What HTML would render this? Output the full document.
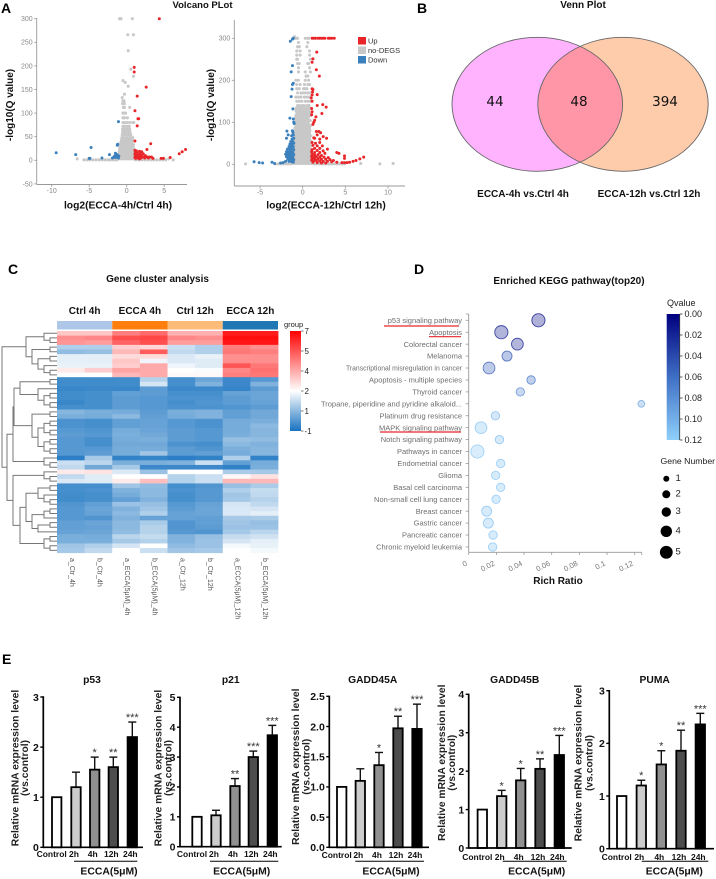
<!DOCTYPE html>
<html lang="en">
<head>
<meta charset="utf-8">
<title>ECCA transcriptome figure</title>
<style>
html,body{margin:0;padding:0;background:#fff;width:716px;height:879px;overflow:hidden}
svg{display:block;font-family:"Liberation Sans",sans-serif;filter:blur(.3px)}
.b{font-weight:bold;fill:#111}
.panel{font-weight:bold;font-size:14px;fill:#000}
.ttl{font-weight:bold;font-size:10px;fill:#111;text-anchor:middle}
</style>
</head>
<body>
<svg id="fig" xmlns="http://www.w3.org/2000/svg" width="716" height="879" viewBox="0 0 716 879">
  <defs>
    <linearGradient id="heatGrad" x1="0" y1="0" x2="0" y2="1">
      <stop offset="0" stop-color="#ff0000"/><stop offset=".6" stop-color="#ffffff"/><stop offset="1" stop-color="#1772c0"/>
    </linearGradient>
    <linearGradient id="qGrad" x1="0" y1="0" x2="0" y2="1">
      <stop offset="0" stop-color="#00007f"/><stop offset=".5" stop-color="#3f6fc4"/><stop offset="1" stop-color="#8fd0fb"/>
    </linearGradient>
    <clipPath id="vennClip"><ellipse cx="537.3" cy="104.3" rx="85.3" ry="67"/></clipPath>
  </defs>
  <rect width="716" height="879" fill="#fff"/>

  <text class="panel" x="1" y="13">A</text>
  <text class="panel" x="417" y="13">B</text>
  <text class="panel" x="8" y="274">C</text>
  <text class="panel" x="414" y="274">D</text>
  <text class="panel" x="2" y="664">E</text>

  <g id="volcano">
    <text class="ttl" x="202.5" y="8" style="font-size:9.5px">Volcano PLot</text>
    <text class="b" transform="translate(13,105) rotate(-90)" text-anchor="middle" font-size="10">-log10(Q value)</text>
    <text class="b" x="118" y="208.3" text-anchor="middle" font-size="10.3">log2(ECCA-4h/Ctrl 4h)</text>
    <text class="b" transform="translate(214,105) rotate(-90)" text-anchor="middle" font-size="10">-log10(Q value)</text>
    <text class="b" x="326" y="208.3" text-anchor="middle" font-size="10.3">log2(ECCA-12h/Ctrl 12h)</text>
    <g>
      <rect x="358" y="37" width="8" height="7.5" fill="#e8262a"/>
      <text x="368" y="43.5" font-size="7.5" fill="#333">Up</text>
      <rect x="358" y="46.5" width="8" height="7.5" fill="#c8c8c8"/>
      <text x="368" y="53" font-size="7.5" fill="#333">no-DEGS</text>
      <rect x="358" y="56" width="8" height="7.5" fill="#3a80bd"/>
      <text x="368" y="62.5" font-size="7.5" fill="#333">Down</text>
    </g>
  </g>

  <g id="venn">
    <text class="ttl" x="583" y="8">Venn Plot</text>
    <ellipse cx="537.3" cy="104.3" rx="85.3" ry="67" fill="#ffb3ff"/>
    <ellipse cx="623" cy="104.3" rx="85.2" ry="67" fill="#fecbab"/>
    <ellipse cx="623" cy="104.3" rx="85.2" ry="67" fill="#ff96a8" clip-path="url(#vennClip)"/>
    <ellipse cx="537.3" cy="104.3" rx="85.3" ry="67" fill="none" stroke="#666" stroke-width=".9"/>
    <ellipse cx="623" cy="104.3" rx="85.2" ry="67" fill="none" stroke="#666" stroke-width=".9"/>
    <g font-family="'DejaVu Sans',sans-serif" font-size="13.5" fill="#111" text-anchor="middle">
      <text x="495" y="106">44</text>
      <text x="579" y="106">48</text>
      <text x="665" y="106">394</text>
    </g>
    <text class="ttl" x="523" y="197">ECCA-4h vs.Ctrl 4h</text>
    <text class="ttl" x="649" y="197">ECCA-12h vs.Ctrl 12h</text>
  </g>

  <g id="heatmap">
    <text class="ttl" x="157.5" y="282">Gene cluster analysis</text>
    <rect x="290" y="331" width="11" height="100" fill="url(#heatGrad)"/>
    <text x="284" y="327" font-size="7.5" fill="#222">group</text>
  </g>

  <g id="kegg">
    <text class="ttl" x="569" y="284">Enriched KEGG pathway(top20)</text>
    <text class="b" x="558" y="584" text-anchor="middle" font-size="10">Rich Ratio</text>
    <text x="667" y="306" font-size="9" fill="#222">Qvalue</text>
    <rect x="666.7" y="314" width="13" height="126" fill="url(#qGrad)"/>
    <text x="660.5" y="464" font-size="8.7" fill="#222">Gene Number</text>
  </g>

  <g id="bars"></g>
</svg>

<script>
/* ---------- volcano data ---------- */
// rows: first value is -log10(Q), the remaining values are log2 fold changes
const volcano4hGrayRows = [
  [1,-5.7,-5.3,-4.9,-4.5,-4.1,-3.7,-3.3,-2.9,-2.5,-2.2,-1.9,-1.6,-1.3,1.2,1.6,2,2.4,2.8,3.2,3.6,4,4.4,4.8,5.2,6.2],
  [3,-6.6,5.6,-1.2,-.9,-.6,-.3,0,.3,.6,.9,1.1],
  [8,-1.1,-.85,-.6,-.35,-.1,.15,.4,.65,.9],
  [13,-1.05,-.8,-.55,-.3,-.05,.2,.45,.7,.95],
  [18,-1,-.75,-.5,-.25,0,.25,.5,.75,1],
  [23,-.95,-.7,-.45,-.2,.05,.3,.55,.8,1],
  [28,-.9,-.65,-.4,-.15,.1,.35,.6,.85],
  [33,-.85,-.6,-.35,-.1,.15,.4,.65,.9],
  [38,-.8,-.55,-.3,-.05,.2,.45,.7],
  [43,-.7,-.45,-.2,.05,.3,.55,.75],
  [48,-.65,-.4,-.15,.1,.35,.6,.8],
  [54,-.6,-.35,-.1,.15,.4,.55],
  [60,-.55,-.3,-.05,.2,.45],
  [66,-.55,-.3,-.05,.2,.4],
  [72,-.5,-.25,0,.25,.35],
  [80,-.5,-.25,.05,.4,.8,.95],
  [90,-.5,-.3,.1],
  [100,-.5,-.35,-.15],
  [112,-.45,-.3,.4],
  [120,-.55,-.4,-.3],
  [126,-.5,-.35],
  [133,-.6],[140,-.3],[157,.2],[165,-.2],[169,-.5],[178,.9],[193,.55],[232,.2],
  [266,.15,.9],
  [300,-.95,-.75,.75]
];
const volcano4hRedPoints = [
  [4.35,300],[1,197],[1,187],[2.6,155],[1.4,136],[1.1,105],[1.6,88],[1.5,88],[1.4,73],[1.1,41],[3.2,35],[2.7,23],
  [7.85,23],[7.4,18],[7,14],[5.8,6],[4.9,4],[4.6,4],
  [1.1,21],[1.3,20],[1.7,19],[2,18],[1.15,17],[1.4,15],[1.8,14],[2.2,14],[1.1,13],[1.3,11],[1.6,11],[2,10],
  [2.5,10],[1.15,9],[1.4,8],[1.8,8],[2.2,7],[2.7,7],[3,7],[3.3,7],[1.1,6],[1.5,5],[1.9,5],[2.4,5],[2.9,5],[3.5,4],[1.2,4],[1.7,3]
];
const volcano4hBluePoints = [
  [-1.1,82],[-1.2,34],[-1.25,32],[-4.75,27],[-9.4,16],[-6.8,12],[-5,4],[-4.9,4],[-2.3,12],[-3.3,5],
  [-1.5,15],[-1.4,11],[-1.7,7],[-1.2,7],[-1.5,6],[-1.1,5],[-1.3,12],[-1.6,9],[-1.9,5],[-1.05,9]
];
const volcano12hGrayRows = [
  [1,-6.7,9.05,-3.2,-2.9,-2.6,-2.3,-2,-1.7,-1.4,1.3,1.6,1.9,2.2,2.5,2.8,3.1,3.4,3.7,4,4.3,4.6,4.9],
  [2,6.8,10.6,-1.1,-.8,-.5,-.2,.1,.4,.7,1],
  [8,-1,-.75,-.5,-.25,0,.25,.5,.75,1],
  [14,-.95,-.7,-.45,-.2,.05,.3,.55,.8],
  [20,-1,-.75,-.5,-.25,0,.25,.5,.75,1],
  [26,-.95,-.7,-.45,-.2,.05,.3,.55,.8],
  [32,-1,-.75,-.5,-.25,0,.25,.5,.75,.95],
  [38,-.95,-.7,-.45,-.2,.05,.3,.55,.8],
  [44,-.95,-.75,-.5,-.25,0,.25,.5,.75,.95],
  [50,-.9,-.7,-.45,-.2,.05,.3,.55,.8],
  [56,-.95,-.75,-.5,-.25,0,.25,.5,.75,.95],
  [62,-.9,-.7,-.45,-.2,.05,.3,.55,.8],
  [68,-.95,-.75,-.5,-.25,0,.25,.5,.75,.95],
  [74,-.9,-.7,-.45,-.2,.05,.3,.55,.8],
  [80,-.85,-.65,-.4,-.15,.1,.35,.6,.85],
  [86,-.9,-.7,-.45,-.2,.05,.3,.55,.8],
  [92,-.8,-.55,-.3,-.05,.2,.45,.7,.9],
  [98,-.85,-.6,-.35,-.1,.15,.4,.65],
  [104,-.8,-.55,-.3,-.05,.2,.45,.7,.9],
  [110,-.85,-.6,-.35,-.1,.15,.4,.65],
  [116,-.8,-.55,-.3,-.05,.2,.45,.7,.9],
  [122,-.7,-.45,-.2,.05,.3,.55,.8],
  [128,-.8,-.55,-.3,-.05,.2,.45,.7],
  [134,-.75,-.45,-.2,.1,.4,.7,.85],
  [140,-.6,-.4,-.1,.15,.5,.75],
  [150,-.7,-.4,-.1,.3,.6,.9],
  [160,-.8,-.5,-.2,.2,.5,.8],
  [170,-.6,-.2,0,.3,.6,.8],
  [180,-.7,-.4,.1,.3,.5],
  [190,-.7,-.3,.2,.6,.8],
  [200,-.8,-.5,.3,.7],
  [210,.4,.6],
  [220,-.5,.3,.9],
  [230,-.5,.8],
  [240,-.6,-.4,.6,.7],
  [250,-.7,-.6,.9],
  [260,-.3,.8,-.7],
  [270,-.7,.8,-.3],
  [280,-.6,-.4,.5],
  [290,.6,-.5],
  [300,-1,-.8,-.6,.3,.6,.7],
  [304,-.95]
];
const volcano12hRedPoints = [
  [1.1,300],[1.3,300],[1.5,300],[1.8,300],[2,300],[2.2,300],[2.4,300],[2.6,300],[3,300],[3.2,300],[3.4,300],[3.7,300],
  [1.65,267],[1.2,251],[1.1,243],[1.6,225],[1.95,210],[1.1,180],[1.2,178],[1.15,172],[1.1,165],[1.7,166],[1,158],[1.1,150],
  [1.7,140],[2.35,142],[2.75,136],[1.05,133],[1.1,125],[1.05,118],[2.25,121],[1.55,113],[1.4,105],[1.3,100],[1.2,95],
  [1.6,78],[1.9,78],[2.1,75],[1.7,70],[1.3,63],[1.4,62],[2,60],[2.8,62],[2.4,66],[1.1,52],[1.5,50],[2,52],[1.2,45],[1.7,44],
  [2.3,44],[1.4,38],[2,38],[2.9,36],[1.1,35],[1.7,33],[2.4,32],[1.05,30],[1.4,28],[2,28],[2.6,26],
  [4,28],[4.25,26],[4.9,20],[4.9,14],[7.15,17],[6.7,13],[6.25,9],[5.9,7],[5.5,5],[5.2,4],[4.9,4],[4.6,4],
  [1.1,24],[1.4,22],[1.8,23],[2.2,21],[1.05,19],[1.3,17],[1.6,18],[2,17],[2.5,17],[3,16],
  [1.1,14],[1.4,13],[1.8,13],[2.2,12],[2.7,12],[3.2,11],[3.6,9],[1.05,10],[1.3,8],[1.6,9],[2,8],[2.4,7],[2.9,7],[3.4,6],[4,5],[1.2,5],[1.7,4],[2.2,3],[2.7,3]
];
const volcano12hBluePoints = [
  [-1.45,293],[-1.2,298],[-1.1,300],[-1.2,235],[-1.35,220],[-1.1,193],[-1.2,190],[-1.25,179],[-1.35,161],[-1.15,132],
  [-1.5,110],[-1.1,108],[-1.05,100],[-1,97],[-1.85,79],[-1.2,80],[-1.15,76],[-1.7,70],[-1.9,62],[-1.3,68],[-1.1,70],
  [-1.25,60],[-1.05,62],[-1.4,54],[-1.15,54],[-1.5,48],[-1.25,48],[-1.05,50],[-1.6,42],[-1.35,42],[-1.1,42],
  [-1.8,36],[-1.5,36],[-1.25,36],[-1.05,35],[-1.9,30],[-1.65,30],[-1.4,30],[-1.15,29],[-2,24],[-1.75,24],[-1.5,24],[-1.25,24],[-1.05,23],
  [-1.9,18],[-1.65,18],[-1.4,18],[-1.15,17],[-1.75,12],[-1.5,12],[-1.25,12],[-1.05,11],[-1.6,7],[-1.3,6],[-1.1,5],[-2,7],[-2.3,4],[-2.6,3],
  [-5.7,6],[-5.1,4],[-4.7,3],[-3.6,5],[-3.3,2]
];
const volcano4hXTicks = [-10,-5,0,5];
const volcano4hYTicks = [-50,0,50,100,150,200,250,300];
const volcano12hXTicks = [-5,0,5,10];
const volcano12hYTicks = [0,100,200,300];

/* ---------- heatmap data ---------- */
const heatColumns = ['a_Ctr_4h','b_Ctr_4h','a_ECCA(5μM)_4h','b_ECCA(5μM)_4h','a_Ctr_12h','b_Ctr_12h','a_ECCA(5μM)_12h','b_ECCA(5μM)_12h'];
const heatGroups = ['Ctrl 4h','ECCA 4h','Ctrl 12h','ECCA 12h'];
const heatGroupColors = ['#aec7e8','#ff7f0e','#ffbb78','#1f77b4'];
const heatScaleLabels = ['7','5','4','2','1','-1'];
const heatValues = [
  [4.2,4.2,5.2,5.5,4.5,4.5,6.6,6.6],
  [5.0,5.1,5.9,6.0,5.1,5.0,6.8,6.8],
  [4.9,4.8,5.6,5.9,4.8,4.8,6.7,6.7],
  [1.9,1.9,4.1,4.0,2.4,1.9,5.2,5.0],
  [1.3,1.4,4.4,5.7,2.2,1.9,5.3,5.2],
  [2.9,2.9,3.9,3.9,2.7,3.0,5.0,5.0],
  [2.9,2.9,4.2,3.1,2.7,2.8,5.0,5.0],
  [3.0,3.0,4.1,4.6,3.1,2.8,5.8,5.3],
  [3.7,4.1,4.7,4.6,3.4,3.3,5.1,5.4],
  [3.3,3.4,4.4,4.6,3.5,3.5,5.2,5.3],
  [-.2,-.2,-.2,2.0,-.1,.6,-.3,.2],
  [-.2,-.2,-.2,2.6,-.1,1.0,-.3,1.0],
  [-.35,-.3,-.35,.3,-.3,-.3,-.4,.3],
  [-.2,-.1,.4,.3,-.1,-.1,.5,.6],
  [-.2,-.1,.3,.2,0,0,.3,.6],
  [-.35,-.1,.3,.2,-.1,.1,.3,.5],
  [-.1,-.1,.3,.2,0,0,.1,.3],
  [1.1,.9,.8,.3,.9,1.0,.4,.7],
  [.9,.8,1.2,.4,.8,1.0,.4,.7],
  [0,-.1,.4,.5,.2,0,.8,.9],
  [0,-.1,.4,.5,.2,0,.8,1.2],
  [.2,.1,.8,.6,.3,.2,.8,1.1],
  [.3,.2,.9,.7,.3,.2,.9,1.1],
  [.2,-.1,.8,.9,.3,.2,1.4,1.3],
  [.2,-.1,.7,.7,0,-.1,1.2,1.0],
  [.2,.2,.8,.8,.3,.1,.9,1.1],
  [.2,.3,.8,1.6,.3,.4,.8,1.1],
  [-.6,1.7,-.5,-.4,-.6,-.5,1.9,-.5],
  [2.4,2.1,.9,.9,1.0,2.4,.4,.8],
  [2.2,.7,1.7,-.3,-.3,-.3,-.5,.9],
  [3.7,3.8,2.7,1.5,3.4,3.4,1.8,1.7],
  [2.2,2.8,3.4,3.4,2.0,2.4,3.5,3.8],
  [2.7,2.8,3.7,4.3,2.0,2.4,4.4,4.4],
  [-.1,-.1,1.6,1.3,-.1,.1,1.4,1.8],
  [-.1,0,1.0,1.2,0,.2,1.9,2.3],
  [-.2,-.1,.8,1.2,-.1,.2,1.6,2.2],
  [-.2,-.1,.4,1.0,-.1,.2,1.7,2.0],
  [.1,.4,1.5,1.4,.2,.5,2.6,2.2],
  [.2,.6,1.0,1.6,.3,.6,2.7,2.6],
  [.2,.5,1.2,1.9,.5,.6,2.7,2.9],
  [.2,.1,1.0,.5,.5,.4,1.7,1.8],
  [.4,.6,1.2,1.8,.1,.4,1.6,1.4],
  [.4,.5,1.2,2.0,.1,.3,1.5,1.5],
  [.5,.6,1.3,2.0,.2,.1,1.7,2.1],
  [.9,.8,2.1,2.3,1.0,1.4,2.3,2.5],
  [.9,.9,1.7,2.0,1.0,1.5,2.6,2.9],
  [1.6,1.9,2.6,3.4,1.3,1.5,3.2,3.0],
  [1.7,2.2,3.4,2.4,1.6,1.7,3.4,3.2]
];
// merge tree: [merge height, left, right]; plain numbers are heatmap rows
const heatTree = [2,
  [26,[44,0,[50,1,2]],[32,[50,3,4],[38,[50,5,6],[44,7,[50,8,9]]]]],
  [7,
    [13,
      [14,
        [20,[50,10,11],[38,12,[44,[50,13,14],[50,15,16]]]],
        [32,[50,17,18],[38,[44,[50,19,20],[50,21,22]],[44,[50,23,24],[50,25,26]]]]],
      [44,27,[50,28,29]]],
    [13,
      [44,30,[50,31,32]],
      [20,
        [26,[38,[50,33,34],[44,35,[50,36,37]]],[32,[44,[50,38,39],40],[38,[50,41,42],43]]],
        [44,[50,44,45],[50,46,47]]]]]
];

/* ---------- KEGG data ---------- */
const keggPathways = ['p53 signaling pathway','Apoptosis','Colorectal cancer','Melanoma','Transcriptional misregulation in cancer','Apoptosis - multiple species','Thyroid cancer','Tropane, piperidine and pyridine alkaloid...','Platinum drug resistance','MAPK signaling pathway','Notch signaling pathway','Pathways in cancer','Endometrial cancer','Glioma','Basal cell carcinoma','Non-small cell lung cancer','Breast cancer','Gastric cancer','Pancreatic cancer','Chronic myeloid leukemia'];
const keggRichRatio = [.0504,.0236,.0352,.0277,.0147,.0451,.0373,.1248,.0193,.0089,.0222,.0063,.0231,.0195,.0231,.0198,.013,.0142,.0176,.0173];
const keggGeneNumber = [5,5,4,3,4,2,2,1,2,4,2,5,2,2,2,2,3,3,2,2];
const keggQvalue = [.005,.012,.015,.045,.05,.06,.075,.09,.105,.112,.108,.115,.112,.112,.112,.112,.11,.11,.112,.112];
const keggXTicks = [0,.02,.04,.06,.08,.1,.12];
const keggUnderlined = ['p53 signaling pathway','Apoptosis','MAPK signaling pathway'];
const qvalueTicks = [0,.02,.04,.06,.08,.1,.12];
const geneLegend = [1,2,3,4,5];

/* ---------- qPCR bar data ---------- */
const barCategories = ['Control','2h','4h','12h','24h'];
const p53Means = [1,1.2,1.55,1.6,2.2];
const p53Tops = [1,1.5,1.8,1.8,2.5];
const p53Stars = ['','','*','**','***'];
const p53Ticks = ['0','1','2','3'];
const p21Means = [1,1.05,2.03,3,3.73];
const p21Tops = [1,1.22,2.28,3.2,4.06];
const p21Stars = ['','','**','***','***'];
const p21Ticks = ['0','1','2','3','4','5'];
const gadd45aMeans = [1,1.1,1.36,1.97,1.96];
const gadd45aTops = [1,1.3,1.57,2.17,2.37];
const gadd45aStars = ['','','*','**','***'];
const gadd45aTicks = ['0.0','0.5','1.0','1.5','2.0','2.5'];
const gadd45bMeans = [1,1.35,1.76,2.06,2.42];
const gadd45bTops = [1,1.5,2.07,2.32,2.93];
const gadd45bStars = ['','*','*','**','***'];
const gadd45bTicks = ['0','1','2','3','4'];
const pumaMeans = [1,1.2,1.6,1.86,2.36];
const pumaTops = [1,1.3,1.86,2.25,2.57];
const pumaStars = ['','*','*','**','***'];
const pumaTicks = ['0','1','2','3'];

/* ---------- helpers ---------- */
const NS = 'http://www.w3.org/2000/svg';
function add(parent, tag, attrs, name, text) {
  const el = document.createElementNS(NS, tag);
  for (const k in attrs) el.setAttribute(k, attrs[k]);
  
  
  if (text !== undefined) el.textContent = text;
  parent.appendChild(el);
  return el;
}
function linear(d0, d1, r0, r1) { return v => r0 + (v - d0) * (r1 - r0) / (d1 - d0); }

/* ---------- volcano ---------- */
function drawVolcano(root, key, o) {
  const g = add(root, 'g', {}, key + '-plot');
  const x = linear(0, 1, o.x0, o.x0 + o.xUnit);
  const y = linear(0, 1, o.y0, o.y0 - o.yUnit);
  add(g, 'line', {x1:o.left,x2:o.left,y1:o.top,y2:o.bottom,stroke:'#999','stroke-width':.9}, key + '-y-axis');
  add(g, 'line', {x1:o.left,x2:o.right,y1:o.bottom,y2:o.bottom,stroke:'#999','stroke-width':.9}, key + '-x-axis');
  o.yTicks.forEach(t => {
    add(g, 'line', {x1:o.left-2.5,x2:o.left,y1:y(t),y2:y(t),stroke:'#999','stroke-width':.8}, key + '-y-tick');
    add(g, 'text', {x:o.left-4,y:y(t)+2.4,'text-anchor':'end','font-size':7,fill:'#888'}, key + '-y-tick-label', String(t));
  });
  o.xTicks.forEach(t => {
    add(g, 'line', {x1:x(t),x2:x(t),y1:o.bottom,y2:o.bottom+2.5,stroke:'#999','stroke-width':.8}, key + '-x-tick');
    add(g, 'text', {x:x(t),y:o.bottom+8.5,'text-anchor':'middle','font-size':7,fill:'#888'}, key + '-x-tick-label', String(t));
  });
  o.gray.forEach(row => {
    row.slice(1).forEach(v => {
      add(g, 'circle', {cx:x(v),cy:y(row[0]),r:1.55,fill:'#c8c8c8'}, key + '-point-no-degs');
    });
  });
  o.blue.forEach(p => {
    add(g, 'circle', {cx:x(p[0]),cy:y(p[1]),r:1.5,fill:'#3a80bd'}, key + '-point-down');
  });
  o.red.forEach(p => {
    add(g, 'circle', {cx:x(p[0]),cy:y(p[1]),r:1.5,fill:'#e8262a'}, key + '-point-up');
  });
}
const volcanoRoot = document.getElementById('volcano');
drawVolcano(volcanoRoot, 'volcano-4h', {
  x0:126.7,xUnit:7.5,y0:160.3,yUnit:.472,left:36.7,right:187,top:18,bottom:184.5,
  xTicks:volcano4hXTicks,yTicks:volcano4hYTicks,gray:volcano4hGrayRows,red:volcano4hRedPoints,blue:volcano4hBluePoints
});
drawVolcano(volcanoRoot, 'volcano-12h', {
  x0:302.7,xUnit:8.53,y0:164.3,yUnit:.42,left:234.3,right:405,top:20,bottom:186,
  xTicks:volcano12hXTicks,yTicks:volcano12hYTicks,gray:volcano12hGrayRows,red:volcano12hRedPoints,blue:volcano12hBluePoints
});

/* ---------- heatmap ---------- */
const heatRoot = document.getElementById('heatmap');
const heatLeft = 57, heatTop = 331, cellW = 221 / heatColumns.length, rowH = 221.7 / heatValues.length;
function heatColor(v) {
  const mid = 3.4;
  let t, c0, c1;
  if (v < mid) { t = Math.max(0, (v + 1) / (mid + 1)); c0 = [23,114,192]; c1 = [255,255,255]; }
  else { t = Math.min(1, (v - mid) / (7 - mid)); c0 = [255,255,255]; c1 = [255,0,0]; }
  const c = c0.map((a, i) => Math.round(a + (c1[i] - a) * t));
  return 'rgb(' + c.join(',') + ')';
}
const heatCells = add(heatRoot, 'g', {}, 'heatmap-cells');
heatValues.forEach((row, r) => {
  row.forEach((v, c) => {
    add(heatCells, 'rect', {x:heatLeft+c*cellW,y:heatTop+r*rowH,width:cellW+.4,height:rowH+.4,fill:heatColor(v)}, 'heatmap-cell');
  });
});
heatGroups.forEach((label, i) => {
  add(heatRoot, 'rect', {x:heatLeft+i*2*cellW,y:321,width:2*cellW,height:8.5,fill:heatGroupColors[i]}, 'group-bar-segment');
  add(heatRoot, 'text', {x:heatLeft+(i*2+1)*cellW,y:314,'text-anchor':'middle','font-size':10,'font-weight':'bold',fill:'#111'}, 'group-label', label);
});
heatColumns.forEach((label, i) => {
  const cx = heatLeft + (i + .5) * cellW;
  add(heatRoot, 'text', {transform:'translate('+(cx-1)+',558) rotate(90)','font-size':7,fill:'#555'}, 'heatmap-column-label', label);
});
heatScaleLabels.forEach((label, i) => {
  const ty = 331 + i * 20;
  add(heatRoot, 'line', {x1:301,x2:303.5,y1:ty,y2:ty,stroke:'#444','stroke-width':.7}, 'colorbar-tick');
  add(heatRoot, 'text', {x:304.5,y:ty+3,'font-size':8,fill:'#222'}, 'colorbar-tick-label', label);
});
const dendro = add(heatRoot, 'g', {stroke:'#777','stroke-width':1,fill:'none'}, 'heatmap-dendrogram');
function drawTree(node) {
  if (typeof node === 'number') return {x:heatLeft, y:heatTop + (node + .5) * rowH};
  const a = drawTree(node[1]), b = drawTree(node[2]);
  const d = 'M'+a.x+' '+a.y+'H'+node[0]+'V'+b.y+'H'+b.x;
  add(dendro, 'path', {d:d}, 'dendrogram-branch');
  return {x:node[0], y:(a.y + b.y) / 2};
}
drawTree(heatTree);

/* ---------- KEGG bubble plot ---------- */
const keggRoot = document.getElementById('kegg');
const keggX = linear(0, .12, 468.7, 634.7);
const keggY = i => 320.3 + i * 11.93;
const bubbleRadius = [0,3.4,4.2,5,5.9,6.6];
const legendRadius = [0,3,4,4.7,5.7,6.4];
const legendY = [478.7,494.3,512,531.3,552.3];
function qColor(q) {
  const t = q / .12;
  const s = [[0,0,127],[63,111,196],[143,208,251]];
  const seg = t < .5 ? 0 : 1, u = t < .5 ? t * 2 : (t - .5) * 2;
  return 'rgb(' + s[seg].map((a, i) => Math.round(a + (s[seg+1][i] - a) * u)).join(',') + ')';
}
add(keggRoot, 'line', {x1:468.7,x2:468.7,y1:314,y2:552.3,stroke:'#999','stroke-width':.9}, 'kegg-y-axis');
add(keggRoot, 'line', {x1:466,x2:468.7,y1:314,y2:314,stroke:'#999','stroke-width':.8}, 'kegg-y-axis-cap');
add(keggRoot, 'line', {x1:468.7,x2:641.7,y1:552.3,y2:552.3,stroke:'#999','stroke-width':.9}, 'kegg-x-axis');
add(keggRoot, 'line', {x1:641.7,x2:641.7,y1:552.3,y2:555,stroke:'#999','stroke-width':.8}, 'kegg-x-axis-cap');
keggXTicks.forEach(t => {
  add(keggRoot, 'line', {x1:keggX(t),x2:keggX(t),y1:552.3,y2:555,stroke:'#999','stroke-width':.8}, 'kegg-x-tick');
  add(keggRoot, 'text', {transform:'translate('+(keggX(t)-1)+',565) rotate(-27)','text-anchor':'end','font-size':7.5,fill:'#777'}, 'kegg-x-tick-label', String(t));
});
keggPathways.forEach((name, i) => {
  const yy = keggY(i);
  add(keggRoot, 'line', {x1:465.7,x2:468.7,y1:yy,y2:yy,stroke:'#999','stroke-width':.8}, 'kegg-y-tick');
  const lab = add(keggRoot, 'text', {x:462,y:yy+2.6,'text-anchor':'end','font-size':7.5,fill:'#6e6e6e'}, 'kegg-pathway-label', name);
  if (name.length === 39) { lab.setAttribute('textLength', 116); lab.setAttribute('lengthAdjust', 'spacingAndGlyphs'); }
  const col = qColor(keggQvalue[i]);
  add(keggRoot, 'circle', {cx:keggX(keggRichRatio[i]),cy:yy,r:bubbleRadius[keggGeneNumber[i]],fill:col,'fill-opacity':.32,stroke:col,'stroke-width':.9,'stroke-opacity':.75}, 'kegg-bubble');
});
const underlineSpans = {'p53 signaling pathway':[384,459,326],'Apoptosis':[429,461,336.7],'MAPK signaling pathway':[380,461,432]};
keggUnderlined.forEach(n => {
  const s = underlineSpans[n];
  add(keggRoot, 'line', {x1:s[0],x2:s[1],y1:s[2],y2:s[2],stroke:'#e8262a','stroke-width':1.2}, 'pathway-highlight-underline');
});
const qAxis = linear(0, .12, 314, 440);
qvalueTicks.forEach(t => {
  add(keggRoot, 'line', {x1:679.7,x2:682.5,y1:qAxis(t),y2:qAxis(t),stroke:'#333','stroke-width':.8}, 'qvalue-tick');
  add(keggRoot, 'text', {x:684.5,y:qAxis(t)+3.2,'font-size':9,fill:'#222'}, 'qvalue-tick-label', t.toFixed(2));
});
add(keggRoot, 'line', {x1:679.7,x2:679.7,y1:314,y2:440,stroke:'#333','stroke-width':.8}, 'qvalue-axis');
geneLegend.forEach((n, i) => {
  add(keggRoot, 'circle', {cx:666.3,cy:legendY[i],r:legendRadius[n],fill:'#000'}, 'gene-number-legend-dot');
  add(keggRoot, 'text', {x:675.5,y:legendY[i]+2.2,'font-size':9.5,fill:'#222'}, 'gene-number-legend-label', String(n));
});

/* ---------- qPCR bars ---------- */
const barRoot = document.getElementById('bars');
const barFills = ['#ffffff','#cccccc','#909090','#4d4d4d','#000000'];
function drawBars(o) {
  const g = add(barRoot, 'g', {}, o.key + '-chart');
  const y = linear(0, o.yMax, o.y0, o.yTop);
  add(g, 'text', {x:o.titleX,y:683,'text-anchor':'middle','font-size':10.3,'font-weight':'bold',fill:'#111'}, o.key + '-title', o.title);
  add(g, 'text', {transform:'translate('+o.lab1+','+o.labY+') rotate(-90)','text-anchor':'middle','font-size':10.3,'font-weight':'bold',fill:'#222'}, o.key + '-y-title', 'Relative mRNA expression level');
  add(g, 'text', {transform:'translate('+o.lab2+','+o.labY+') rotate(-90)','text-anchor':'middle','font-size':10.3,'font-weight':'bold',fill:'#222'}, o.key + '-y-subtitle', '(vs.control)');
  o.means.forEach((m, i) => {
    const cx = o.centers[i], top = y(m), et = y(o.tops[i]);
    if (o.tops[i] > m) {
      add(g, 'line', {x1:cx,x2:cx,y1:et,y2:top,stroke:'#111','stroke-width':1.4}, o.key + '-error-bar');
      add(g, 'line', {x1:cx-4,x2:cx+4,y1:et,y2:et,stroke:'#111','stroke-width':1.4}, o.key + '-error-cap');
    }
    add(g, 'rect', {x:cx-4.7,y:top,width:9.4,height:o.y0-top,fill:barFills[i],stroke:'#000','stroke-width':1.8}, o.key + '-bar-' + barCategories[i].toLowerCase());
    if (o.stars[i]) add(g, 'text', {x:cx,y:et-1,'text-anchor':'middle','font-size':11,fill:'#333'}, o.key + '-significance', o.stars[i]);
    add(g, 'text', {x:cx-(i===0?5:2),y:o.catY,'text-anchor':'middle','font-size':8.5,'font-weight':'bold',fill:'#111'}, o.key + '-x-label', barCategories[i]);
  });
  add(g, 'line', {x1:o.axisX,x2:o.axisX,y1:o.yTop-.7,y2:o.y0+.8,stroke:'#000','stroke-width':1.7}, o.key + '-y-axis');
  add(g, 'line', {x1:o.axisX,x2:o.axisEnd,y1:o.y0,y2:o.y0,stroke:'#000','stroke-width':1.7}, o.key + '-x-axis');
  o.ticks.forEach(t => {
    const v = parseFloat(t);
    add(g, 'line', {x1:o.axisX-3,x2:o.axisX,y1:y(v),y2:y(v),stroke:'#000','stroke-width':1.4}, o.key + '-y-tick');
    add(g, 'text', {x:o.axisX-4.5,y:y(v)+3.8,'text-anchor':'end','font-size':10.5,'font-weight':'bold',fill:'#111'}, o.key + '-y-tick-label', t);
  });
  add(g, 'line', {x1:o.ul[0],x2:o.ul[1],y1:861.3,y2:861.3,stroke:'#000','stroke-width':1}, o.key + '-treatment-bracket');
  add(g, 'text', {x:o.ulLabel,y:874.5,'text-anchor':'middle','font-size':10.4,'font-weight':'bold',fill:'#111'}, o.key + '-treatment-label', 'ECCA(5μM)');
}
drawBars({key:'p53',title:'p53',titleX:92,means:p53Means,tops:p53Tops,stars:p53Stars,ticks:p53Ticks,yMax:3,y0:847.3,yTop:697,axisX:43.3,axisEnd:143,centers:[56.7,76,94.7,113.3,132.3],lab1:18.3,lab2:28,labY:768,catY:857,ul:[74,137.3],ulLabel:109});
drawBars({key:'p21',title:'p21',titleX:230.7,means:p21Means,tops:p21Tops,stars:p21Stars,ticks:p21Ticks,yMax:5,y0:846.7,yTop:697.3,axisX:180,axisEnd:281.7,centers:[197,216,235,253.3,272.3],lab1:161.7,lab2:171.7,labY:768,catY:857,ul:[210,278.3],ulLabel:241.7});
drawBars({key:'gadd45a',title:'GADD45A',titleX:372.7,means:gadd45aMeans,tops:gadd45aTops,stars:gadd45aStars,ticks:gadd45aTicks,yMax:2.5,y0:847.3,yTop:696.3,axisX:329.3,axisEnd:429,centers:[341.7,360.3,379,398,417],lab1:299,lab2:309.3,labY:766.7,catY:858,ul:[355.3,424],ulLabel:391});
drawBars({key:'gadd45b',title:'GADD45B',titleX:514.7,means:gadd45bMeans,tops:gadd45bTops,stars:gadd45bStars,ticks:gadd45bTicks,yMax:4,y0:848,yTop:694.3,axisX:468.7,axisEnd:571.7,centers:[482.3,501.7,520.7,540,559.3],lab1:445,lab2:455,labY:762.7,catY:860,ul:[502.7,566.7],ulLabel:536.7});
drawBars({key:'puma',title:'PUMA',titleX:654.7,means:pumaMeans,tops:pumaTops,stars:pumaStars,ticks:pumaTicks,yMax:3,y0:848.7,yTop:690.7,axisX:609.3,axisEnd:714,centers:[621.7,641.3,661.3,681,700.3],lab1:581.7,lab2:592.3,labY:763,catY:860,ul:[641.7,708.3],ulLabel:674.3});
</script>
</body>
</html>
